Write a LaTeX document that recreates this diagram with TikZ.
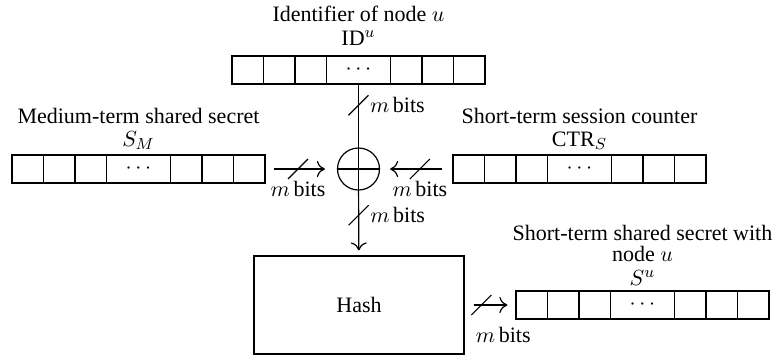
\documentclass[tikz,border=0pt]{standalone}
\usepackage{fontspec}
\setmainfont{Liberation Serif}
\usetikzlibrary{arrows.meta,calc}

\begin{document}
\begin{tikzpicture}[
        x=0.5pt, y=-0.5pt,
        line width=0.6pt,
        font=\fontsize{11}{13}\selectfont
    ]
    \tikzset{
        reg/.style = {rectangle, draw=black, inner sep=0pt, minimum width=126.5pt, minimum height=14pt},
        xornode/.style = {circle, draw=black, inner sep=0pt, minimum size=21pt},
        hashbox/.style = {rectangle, draw=black, inner sep=0pt, minimum width=105pt, minimum height=49pt},
        lbl/.style = {anchor=base, inner sep=0pt},
        bitsl/.style = {inner sep=1pt},
        arr/.style = {-{Computer Modern Rightarrow[length=4pt,width=8pt]}},
    }
    \useasboundingbox (0,0) rectangle (773,360);
    % registers
    \node[reg] (idu) at (358.5,70) {};
    \node[reg] (sm) at (138.5,169) {};
    \node[reg] (ctr) at (579.5,169) {};
    \node[reg] (su) at (642.5,305) {};
    \foreach \r in {idu,sm,ctr,su} {
        \foreach \f in {1,2,3,5,6,7}
            \draw ($(\r.north west)!\f/8!(\r.north east)$) -- ($(\r.south west)!\f/8!(\r.south east)$);
        \node[inner sep=0pt] (\r-dots) at (\r.center) {$\cdots$};
    }
    %
    \node[lbl] (idtxt) at (358.5,21) {Identifier of node $u$};
    \node[lbl] (idsym) at (358.5,45) {ID$^u$};
    \node[lbl] (smtxt) at (138.5,123) {Medium-term shared secret};
    \node[lbl] (smsym) at (138.5,146) {$S_M$};
    \node[lbl] (ctrtxt) at (579.5,123) {Short-term session counter};
    \node[lbl] (ctrsym) at (579.5,146) {CTR$_S$};
    \node[lbl] (sutxt) at (642.5,240) {Short-term shared secret with};
    \node[lbl] (sunode) at (642.5,261) {node $u$};
    \node[lbl] (susym) at (642.5,285) {$S^u$};
    %
    \node[xornode] (xor) at (358.5,169) {};
    \draw (xor.north) -- (xor.south);
    \draw (xor.west) -- (xor.east);
    \node[hashbox] (hash) at (359,305) {Hash};
    %
    \draw (idu) -- coordinate[pos=.33] (b-idu) (xor);
    \node[bitsl, anchor=west] (l-idu) at ([xshift=4.5pt]b-idu) {$m$\,bits};
    \draw[arr, shorten >=2.5pt] (xor) -- coordinate[pos=.38] (b-xor) (hash);
    \node[bitsl, anchor=west] (l-xor) at ([xshift=4.5pt]b-xor) {$m$\,bits};
    %
    \draw[arr, shorten <=4pt, shorten >=6pt] (sm) -- coordinate[pos=.455] (b-sm) (xor);
    \node[bitsl, anchor=north] (l-sm) at ([yshift=-5pt]b-sm) {$m$\,bits};
    \draw[arr, shorten <=5pt, shorten >=5pt] (ctr) -- coordinate[pos=.45] (b-ctr) (xor);
    \node[bitsl, anchor=north] (l-ctr) at ([yshift=-5pt]b-ctr) {$m$\,bits};
    %
    \draw[arr, shorten <=4.5pt, shorten >=4pt] (hash) -- coordinate[pos=.33] (b-hash) (su);
    \node[bitsl, anchor=north west] (l-hash) at ([shift={(-4pt,-10pt)}]b-hash) {$m$\,bits};
    % bus width marks
    \foreach \b in {b-idu,b-xor,b-sm,b-ctr,b-hash}
        \draw ([shift={(-10,10)}]\b) -- ([shift={(10,-10)}]\b);
\end{tikzpicture}
\end{document}
